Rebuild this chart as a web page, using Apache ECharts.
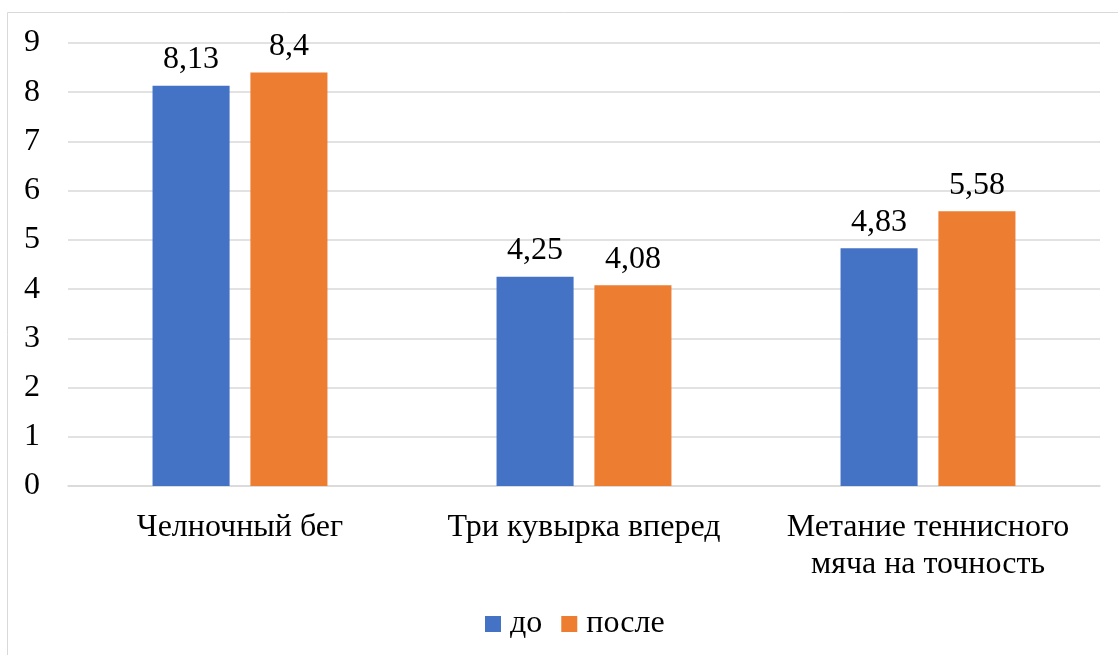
<!DOCTYPE html>
<html>
<head>
<meta charset="utf-8">
<script src="https://cdn.jsdelivr.net/npm/echarts@6/dist/echarts.min.js"></script>
<style>html,body{margin:0;padding:0;background:#fff;}#c{width:1118px;height:655px;}</style>
</head>
<body>
<div id="c"></div>
<script>
const categories = ['Челночный бег', 'Три кувырка вперед', 'Метание теннисного\nмяча на точность'];
const seriesNames = ['до', 'после'];
const valuesBefore = [8.13, 4.25, 4.83];
const valuesAfter = [8.4, 4.08, 5.58];
const yTicks = [0, 1, 2, 3, 4, 5, 6, 7, 8, 9];

const font = 'Liberation Serif';
const fs = 32;
const chart = echarts.init(document.getElementById('c'));
const fmt = p => String(p.value).replace('.', ',');
chart.setOption({
  animation: false,
  textStyle: { fontFamily: font },
  graphic: [{
    type: 'rect', shape: { x: 7.5, y: 12.5, width: 1120, height: 700 },
    style: { fill: 'none', stroke: '#d9d9d9', lineWidth: 1 }, silent: true
  }],
  grid: { left: 68, right: 18, top: 43, bottom: 169 },
  legend: {
    bottom: 10, left: 480, itemWidth: 16, itemHeight: 16, itemGap: 19,
    icon: 'rect',
    textStyle: { fontFamily: font, fontSize: fs, color: '#000', padding: [0, 0, 0, 4] },
    data: seriesNames
  },
  xAxis: {
    type: 'category', data: categories,
    axisLine: { lineStyle: { color: '#d9d9d9', width: 1.5 } },
    axisTick: { show: false },
    axisLabel: { fontFamily: font, fontSize: fs, color: '#000', margin: 23, lineHeight: 37, interval: 0 }
  },
  yAxis: {
    type: 'value', min: yTicks[0], max: yTicks[yTicks.length - 1], interval: 1,
    axisLine: { show: false }, axisTick: { show: false },
    splitLine: { lineStyle: { color: '#d9d9d9', width: 1.5 } },
    axisLabel: { fontFamily: font, fontSize: fs, color: '#000', margin: 28 }
  },
  series: [
    { name: seriesNames[0], type: 'bar', data: valuesBefore, barWidth: '22.4%', barGap: '27%',
      itemStyle: { color: '#4472c4' },
      label: { show: true, position: 'top', distance: 10, fontFamily: font, fontSize: fs, color: '#000', formatter: fmt } },
    { name: seriesNames[1], type: 'bar', data: valuesAfter, barWidth: '22.4%', barGap: '27%',
      itemStyle: { color: '#ed7d31' },
      label: { show: true, position: 'top', distance: 10, fontFamily: font, fontSize: fs, color: '#000', formatter: fmt } }
  ]
});
</script>
</body>
</html>
